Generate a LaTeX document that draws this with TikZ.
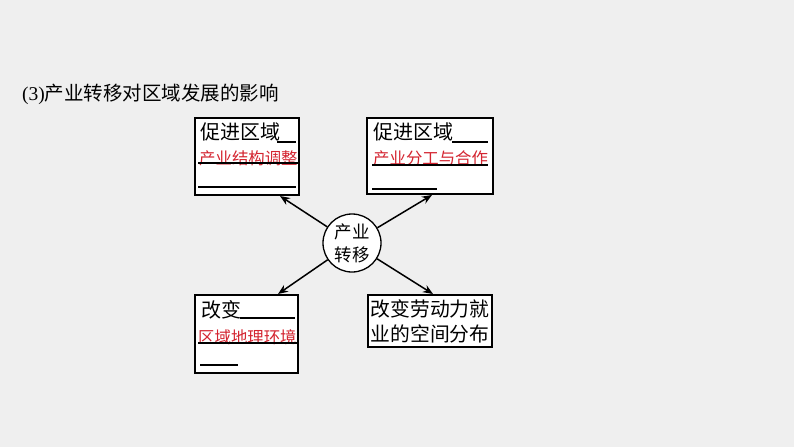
\documentclass[tikz,border=0pt]{standalone}
\usepackage{fontspec}
\setmainfont{Liberation Serif}
\newfontfamily\cjk{Noto Sans CJK SC}
\usetikzlibrary{arrows,arrows.meta}
\definecolor{bggray}{RGB}{239,239,239}
\definecolor{ansred}{RGB}{212,36,48}
\tikzstyle{frame}=[draw, fill=white, line width=1.3pt, inner sep=0pt]
\tikzstyle{txt}=[anchor=west, inner sep=0pt, font=\cjk\fontsize{20pt}{20pt}\selectfont]
\tikzstyle{ans}=[anchor=west, inner sep=0pt, text=ansred, font=\cjk\fontsize{16.4pt}{16.4pt}\selectfont]
\tikzstyle{blank}=[line width=1.1pt]
\tikzstyle{link}=[line width=1.5pt]

\begin{document}
\begin{tikzpicture}[x=1pt, y=-1pt, ->, >={Stealth[length=10pt,width=8pt]}]
	\fill[bggray] (0,0) rectangle (794,447);
	\useasboundingbox (0,0) rectangle (794,447);

	\node[anchor=west, inner sep=0pt] (title) at (22,94) {\fontsize{19.5pt}{19.5pt}\selectfont (3)\cjk 产业转移对区域发展的影响};

	% four boxes and the hub
	\node[frame, minimum width=104pt, minimum height=77pt] (tl) at (247,156.5) {};
	\node[frame, minimum width=126pt, minimum height=76pt] (tr) at (430,156) {};
	\node[frame, minimum width=103pt, minimum height=78pt] (bl) at (246.5,334) {};
	\node[frame, minimum width=124pt, minimum height=52pt, align=left, font=\cjk\fontsize{19.8pt}{25pt}\selectfont] (br) at (430,321) {改变劳动力就\\业的空间分布};
	\node[frame, circle, minimum size=58pt, align=center, font=\cjk\fontsize{17.5pt}{23pt}\selectfont] (hub) at (352,243) {产业\\转移};

	% texts in the boxes
	\node[txt] (tl1) at (200,132) {促进区域};
	\node[ans] (tl2) at (199,158) {产业结构调整};
	\node[txt] (tr1) at (373,132) {促进区域};
	\node[ans] (tr2) at (373,158) {产业分工与合作};
	\node[txt] (bl1) at (201,310) {改变};
	\node[ans] (bl2) at (198,337) {区域地理环境};

	% blanks
	\draw[blank, -] (277,142) -- (296,142);
	\draw[blank, -] (198,163) -- (298,163);
	\draw[blank, -] (198,187) -- (296,187);
	\draw[blank, -] (452,142) -- (488,142);
	\draw[blank, -] (372,165) -- (488,165);
	\draw[blank, -] (372,189) -- (437,189);
	\draw[blank, -] (240,318) -- (295,318);
	\draw[blank, -] (198,343) -- (297,343);
	\draw[blank, -] (200,365) -- (238,365);

	% arrow ends on the boxes
	\coordinate (tlend) at (280,196);
	\coordinate (trend) at (432,195);
	\coordinate (blend) at (278,294);
	\coordinate (brend) at (433,294);

	\draw[link] (hub) -- (tlend);
	\draw[link] (hub) -- (trend);
	\draw[link] (hub) -- (blend);
	\draw[link] (hub) -- (brend);
\end{tikzpicture}
\end{document}
